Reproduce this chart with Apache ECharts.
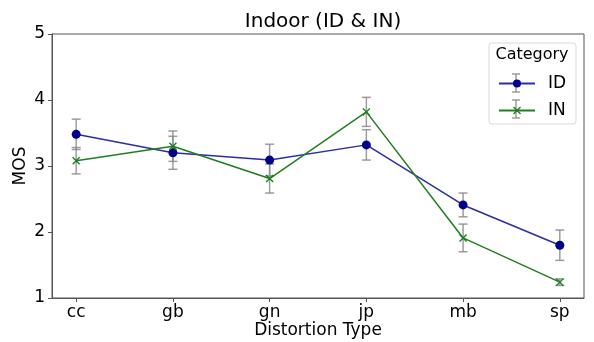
<!DOCTYPE html>
<html>
<head>
<meta charset="utf-8">
<script src="https://cdn.jsdelivr.net/npm/echarts@6/dist/echarts.min.js"></script>
<style>
  html, body { margin: 0; padding: 0; background: #fff; }
  #chart { width: 594px; height: 342px; }
</style>
</head>
<body>
<div id="chart"></div>
<script>
const categories = ['cc', 'gb', 'gn', 'jp', 'mb', 'sp']
const idMean = [3.48, 3.20, 3.09, 3.32, 2.41, 1.80]
const idErr = [0.23, 0.25, 0.24, 0.23, 0.18, 0.23]
const inMean = [3.08, 3.30, 2.81, 3.82, 1.91, 1.24]
const inErr = [0.20, 0.23, 0.22, 0.22, 0.21, 0.05]
const yTicks = [1, 2, 3, 4, 5]

const FONT = 'DejaVu Sans'
const X_MARK = 'path://M0,1.2L1.2,0L5,3.8L8.8,0L10,1.2L6.2,5L10,8.8L8.8,10L5,6.2L1.2,10L0,8.8L3.8,5Z'
const ERR_STYLE = { stroke: '#8c8c8c', lineWidth: 1.5, opacity: 0.85 }

const chart = echarts.init(document.getElementById('chart'))

function errorBars(means, errs) {
  return means.map((m, i) => [i, m - errs[i], m + errs[i]])
}

function renderErr(params, api) {
  const lo = api.coord([api.value(0), api.value(1)])
  const hi = api.coord([api.value(0), api.value(2)])
  const cap = 4.5
  return {
    type: 'group',
    children: [
      { type: 'line', shape: { x1: lo[0], y1: lo[1], x2: hi[0], y2: hi[1] }, style: ERR_STYLE },
      { type: 'line', shape: { x1: lo[0] - cap, y1: lo[1], x2: lo[0] + cap, y2: lo[1] }, style: ERR_STYLE },
      { type: 'line', shape: { x1: hi[0] - cap, y1: hi[1], x2: hi[0] + cap, y2: hi[1] }, style: ERR_STYLE },
    ],
  }
}

// small gray error-bar glyph for a legend row
function legendErr(cx, cy) {
  return {
    type: 'group',
    z: 0,
    children: [
      { type: 'line', shape: { x1: cx, y1: cy - 9, x2: cx, y2: cy + 9 }, style: ERR_STYLE },
      { type: 'line', shape: { x1: cx - 4, y1: cy - 9, x2: cx + 4, y2: cy - 9 }, style: ERR_STYLE },
      { type: 'line', shape: { x1: cx - 4, y1: cy + 9, x2: cx + 4, y2: cy + 9 }, style: ERR_STYLE },
    ],
  }
}

const option = {
  animation: false,
  textStyle: { fontFamily: FONT },
  title: {
    text: 'Indoor (ID & IN)',
    left: 318,
    textAlign: 'center',
    top: 7,
    textStyle: { fontSize: 20, fontWeight: 'normal', color: '#000', fontFamily: FONT },
  },
  grid: {
    left: 52, right: 10, top: 34, bottom: 44,
    outerBoundsMode: 'none',
    show: true, borderColor: '#555', borderWidth: 1,
  },
  legend: {
    left: 498,
    top: 75,
    padding: 0,
    orient: 'vertical',
    itemWidth: 36,
    itemHeight: 10,
    itemGap: 10,
    textStyle: { fontSize: 17, color: '#000', fontFamily: FONT, padding: [0, 0, 0, 8] },
    data: ['ID', 'IN'],
  },
  graphic: [
    {
      type: 'rect',
      z: -1,
      shape: { x: 489, y: 43, width: 87, height: 81, r: 3 },
      style: { fill: 'rgba(255,255,255,0.8)', stroke: '#d9d9d9', lineWidth: 1 },
    },
    {
      type: 'text',
      x: 532,
      y: 47,
      style: { text: 'Category', fontSize: 16, fill: '#000', fontFamily: FONT, align: 'center' },
    },
    legendErr(516, 83),
    legendErr(516, 109),
  ],
  xAxis: {
    type: 'value',
    min: -0.25,
    max: 5.25,
    name: 'Distortion Type',
    nameLocation: 'middle',
    nameGap: 24,
    nameMoveOverlap: false,
    nameTextStyle: { fontSize: 17, color: '#000', fontFamily: FONT },
    splitLine: { show: false },
    axisLine: { show: true, onZero: false, lineStyle: { color: '#555' } },
    axisTick: { show: true, length: 4, lineStyle: { color: '#555' }, customValues: [0, 1, 2, 3, 4, 5] },
    axisLabel: {
      fontSize: 17, color: '#000', margin: 6,
      customValues: [0, 1, 2, 3, 4, 5],
      formatter: v => categories[Math.round(v)],
    },
  },
  yAxis: {
    type: 'value',
    min: yTicks[0],
    max: yTicks[yTicks.length - 1],
    interval: 1,
    name: 'MOS',
    nameLocation: 'middle',
    nameGap: 23,
    nameMoveOverlap: false,
    nameTextStyle: { fontSize: 17, color: '#000', fontFamily: FONT },
    splitLine: { show: false },
    axisLine: { show: true, onZero: false, lineStyle: { color: '#555' } },
    axisTick: { show: true, length: 4, lineStyle: { color: '#555' } },
    axisLabel: { fontSize: 17, color: '#000', margin: 7 },
  },
  series: [
    {
      type: 'custom',
      name: 'idErr',
      renderItem: renderErr,
      data: errorBars(idMean, idErr),
      encode: { x: 0, y: [1, 2] },
      z: 1,
      silent: true,
    },
    {
      type: 'custom',
      name: 'inErr',
      renderItem: renderErr,
      data: errorBars(inMean, inErr),
      encode: { x: 0, y: [1, 2] },
      z: 1,
      silent: true,
    },
    {
      name: 'ID',
      type: 'line',
      data: idMean.map((v, i) => [i, v]),
      symbol: 'circle',
      symbolSize: 9,
      lineStyle: { color: '#2c2ca6', width: 1.5 },
      itemStyle: { color: '#00008b' },
      z: 3,
    },
    {
      name: 'IN',
      type: 'line',
      data: inMean.map((v, i) => [i, v]),
      symbol: X_MARK,
      symbolSize: 8,
      lineStyle: { color: '#1f7f1f', width: 1.5 },
      itemStyle: { color: '#1f7f1f' },
      z: 3,
    },
  ],
}

chart.setOption(option)
</script>
</body>
</html>
